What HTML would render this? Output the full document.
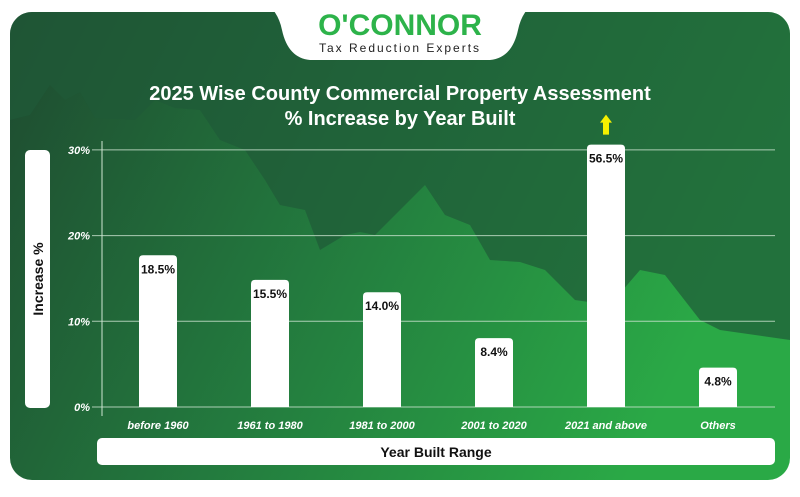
<!DOCTYPE html>
<html><head><meta charset="utf-8"><style>
body{margin:0;width:800px;height:492px;background:#fff;overflow:hidden;font-family:"Liberation Sans",sans-serif}
</style></head><body>
<svg width="800" height="492" xmlns="http://www.w3.org/2000/svg">
<defs>
<linearGradient id="bg" x1="0" y1="0" x2="1" y2="0.3">
<stop offset="0" stop-color="#1e4a30"/><stop offset="0.5" stop-color="#237a3e"/><stop offset="1" stop-color="#2aa946"/>
</linearGradient>
<clipPath id="card"><rect x="10" y="12" width="780" height="468" rx="22"/></clipPath>
</defs>
<rect x="10" y="12" width="780" height="468" rx="22" fill="url(#bg)"/>
<path clip-path="url(#card)" fill="#1f5a38" opacity="0.7"
d="M10 120 L30 115 L50 85 L65 100 L80 92 L95 118 L135 120 L155 100 L175 108 L200 110 L220 140 L245 150 L265 180 L280 205 L305 210 L320 250 L345 235 L360 232 L375 235 L400 210 L425 185 L445 215 L470 225 L490 260 L520 262 L545 270 L575 300 L610 305 L640 270 L665 275 L700 320 L720 330 L790 340 L790 12 L10 12 Z"/>
<path d="M262 0 L538 0 Q522 10 518 30 Q512 58 490 60 L310 60 Q288 58 282 30 Q278 10 262 0 Z" fill="#fff"/>
<text x="400" y="35" text-anchor="middle" font-size="30" font-weight="bold" fill="#2db34a">O'CONNOR</text>
<text x="400" y="52" text-anchor="middle" font-size="12" fill="#222" letter-spacing="2">Tax Reduction Experts</text>
<text x="400" y="100" text-anchor="middle" font-size="20" font-weight="bold" fill="#fff">2025 Wise County Commercial Property Assessment</text>
<text x="400" y="125" text-anchor="middle" font-size="20" font-weight="bold" fill="#fff">% Increase by Year Built</text>
<rect x="25" y="150" width="25" height="258" rx="5" fill="#fff"/>
<text transform="translate(43,279) rotate(-90)" text-anchor="middle" font-size="14" font-weight="bold" fill="#111">Increase %</text>
<rect x="97" y="438" width="678" height="27" rx="5" fill="#fff"/>
<text x="436" y="457" text-anchor="middle" font-size="14" font-weight="bold" fill="#111">Year Built Range</text>
<g id="plot"></g>
</svg>
<script>
const categories=["before 1960","1961 to 1980","1981 to 2000","2001 to 2020","2021 and above","Others"];
const values=[18.5,15.5,14.0,8.4,56.5,4.8];
const labels=["18.5%","15.5%","14.0%","8.4%","56.5%","4.8%"];
const ticks=[0,10,20,30];
const tickLabels=["0%","10%","20%","30%"];
const NS="http://www.w3.org/2000/svg";
const g=document.getElementById('plot');
const y0=407,pxPer=8.57,barPx=8.2,maxV=32,x0=102,x1=775,xStart=158,step=112,bw=38;
const y=v=>y0-v*pxPer;
const yb=v=>y0-Math.min(v,maxV)*barPx;
const x=i=>xStart+i*step;
function mk(t,a){const e=document.createElementNS(NS,t);for(const k in a)e.setAttribute(k,a[k]);g.appendChild(e);return e;}
ticks.forEach((t,i)=>{
const l=mk('line',{x1:x0-10,x2:x1,y1:y(t),y2:y(t),stroke:'#cfe6d3','stroke-width':1,opacity:0.8});


const tx=mk('text',{x:x0-12,y:y(t)+4,'text-anchor':'end','font-size':11,'font-weight':'bold','font-style':'italic',fill:'#fff'});
tx.textContent=tickLabels[i];


});
const ax=mk('line',{x1:x0,x2:x0,y1:141,y2:416,stroke:'#cfe6d3','stroke-width':1});


values.forEach((v,i)=>{
const top=yb(v);
const p=mk('path',{d:`M${x(i)-bw/2} ${y0} L${x(i)-bw/2} ${top+4} Q${x(i)-bw/2} ${top} ${x(i)-bw/2+4} ${top} L${x(i)+bw/2-4} ${top} Q${x(i)+bw/2} ${top} ${x(i)+bw/2} ${top+4} L${x(i)+bw/2} ${y0} Z`,fill:'#fff'});


const t=mk('text',{x:x(i),y:top+18,'text-anchor':'middle','font-size':12,'font-weight':'bold',fill:'#111'});
t.textContent=labels[i];


const c=mk('text',{x:x(i),y:429,'text-anchor':'middle','font-size':11,'font-weight':'bold','font-style':'italic',fill:'#fff'});
c.textContent=categories[i];


if(v>maxV){
const a=mk('path',{d:`M${x(i)} ${top-30} L${x(i)+6} ${top-22} L${x(i)+3} ${top-22} L${x(i)+3} ${top-10} L${x(i)-3} ${top-10} L${x(i)-3} ${top-22} L${x(i)-6} ${top-22} Z`,fill:'#f5f000'});


}
});
</script>
</body></html>
